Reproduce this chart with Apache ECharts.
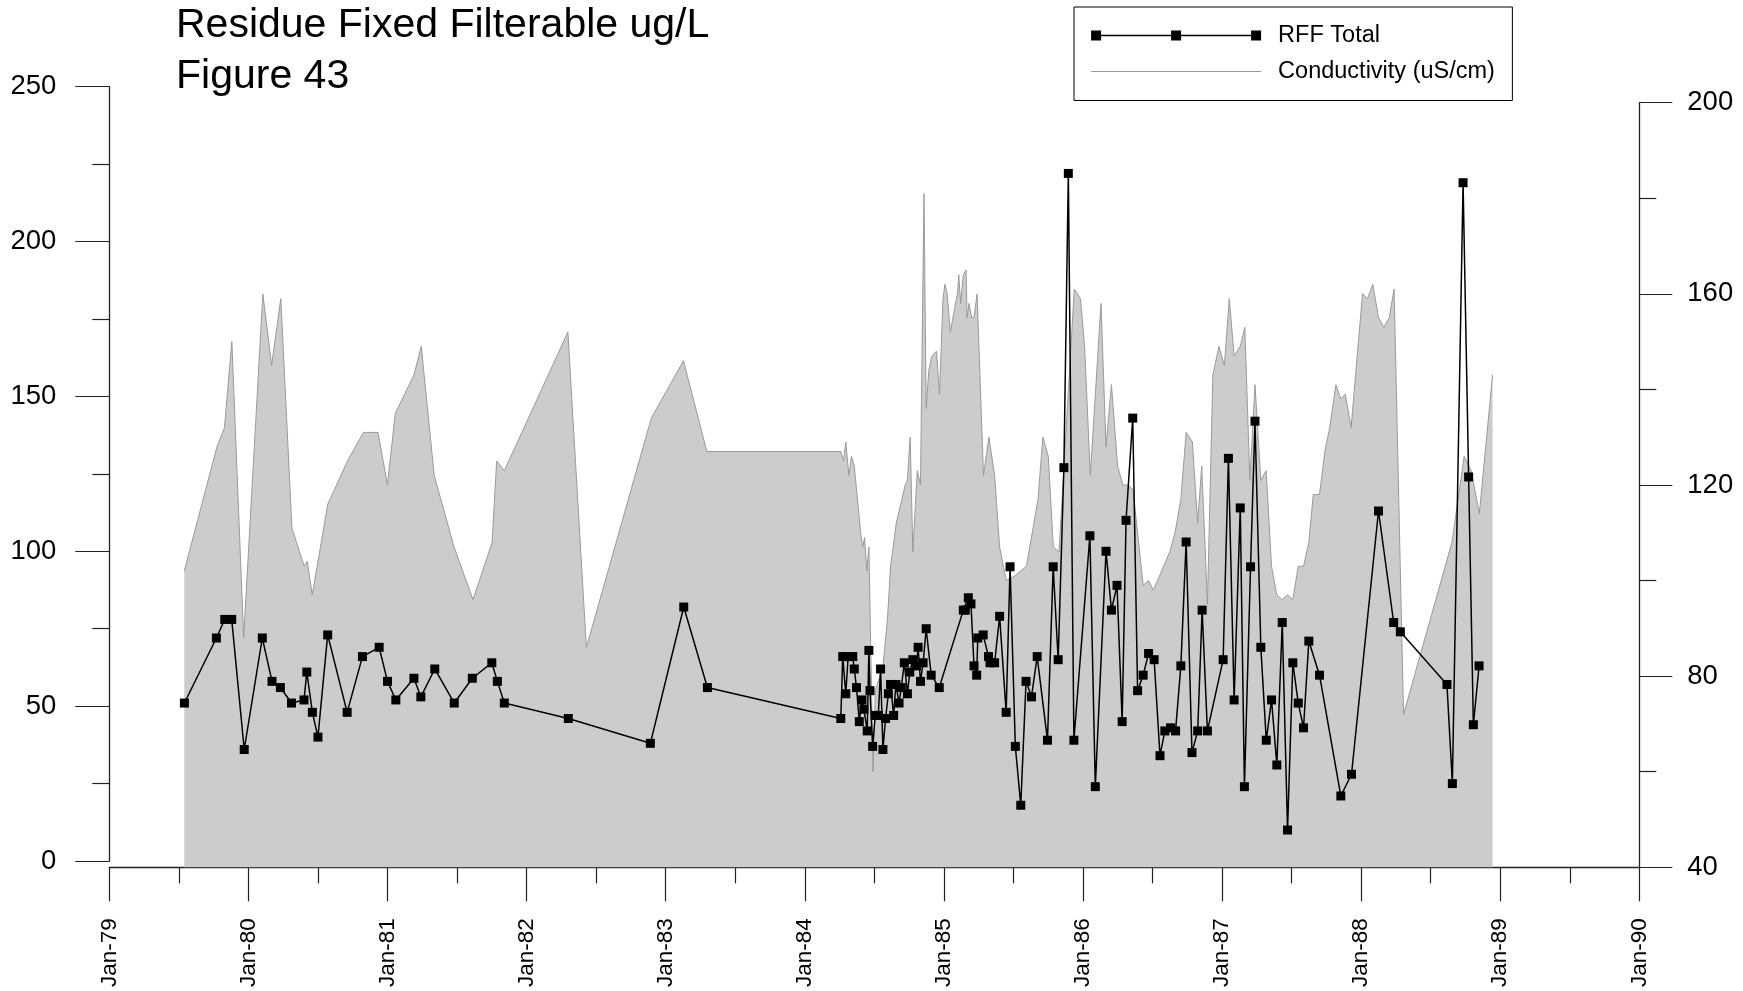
<!DOCTYPE html>
<html>
<head>
<meta charset="utf-8">
<script src="https://cdn.jsdelivr.net/npm/echarts@6/dist/echarts.min.js"></script>
<style>
html,body{margin:0;padding:0;background:#fff;}
#chart{width:1743px;height:991px;}
</style>
</head>
<body>
<div id="chart"></div>
<script>
// ---- data (dates as decimal years) ----
const xTickLabels = ['Jan-79','Jan-80','Jan-81','Jan-82','Jan-83','Jan-84','Jan-85','Jan-86','Jan-87','Jan-88','Jan-89','Jan-90'];

const rffDates = [1979.54,1979.77,1979.83,1979.88,1979.97,1980.10,1980.17,1980.23,1980.31,1980.40,1980.42,1980.46,1980.50,1980.57,1980.71,1980.82,1980.94,1981.00,1981.06,1981.19,1981.24,1981.34,1981.48,1981.61,1981.75,1981.79,1981.84,1982.30,1982.89,1983.13,1983.30,
1984.259,1984.273,1984.295,1984.312,1984.345,1984.356,1984.372,1984.392,1984.411,1984.425,1984.449,1984.461,1984.469,1984.488,1984.507,1984.529,1984.545,1984.562,1984.581,1984.601,1984.617,1984.639,1984.655,1984.678,1984.694,1984.716,1984.738,1984.755,1984.777,1984.804,1984.815,1984.832,1984.851,1984.873,1984.909,1984.967,
1985.140,1985.154,1985.176,1985.195,1985.217,1985.236,1985.244,1985.283,1985.321,1985.332,1985.365,1985.401,1985.448,1985.476,1985.514,1985.553,1985.591,1985.630,1985.671,1985.745,1985.786,1985.822,1985.863,1985.895,1985.935,1986.050,1986.089,1986.166,1986.205,1986.245,1986.282,1986.310,1986.358,1986.393,1986.433,1986.472,1986.512,1986.554,1986.589,1986.630,1986.666,1986.704,1986.742,1986.784,1986.825,1986.857,1986.895,1987.008,1987.046,1987.087,1987.131,1987.161,1987.205,1987.237,1987.279,1987.318,1987.356,1987.394,1987.433,1987.471,1987.509,1987.548,1987.586,1987.624,1987.701,1987.854,1987.931,1988.125,1988.234,1988.282,1988.617,1988.656,1988.733,1988.773,1988.807,1988.848];

const rffValues = [51,72,78,78,36,72,58,56,51,52,61,48,40,73,48,66,69,58,52,59,53,62,51,59,64,58,51,46,38,82,56,
46,66,54,66,66,62,56,45,52,49,42,68,55,37,47,47,62,36,46,54,57,47,57,51,56,64,54,61,65,63,69,58,64,75,60,56,
81,81,85,83,63,60,72,73,66,64,64,79,48,95,37,18,58,53,66,39,95,65,127,222,39,105,24,100,81,89,45,110,143,55,60,67,65,34,42,43,42,63,103,35,42,81,42,65,130,52,114,24,95,142,69,39,52,31,77,10,64,51,43,71,60,21,28,113,77,74,57,25,219,124,44,63];

const condDates = [1979.539,1979.774,1979.828,1979.881,1979.966,1980.104,1980.167,1980.233,1980.313,1980.401,
1980.423,1980.459,1980.571,1980.712,1980.827,1980.932,1981.000,1981.056,1981.190,1981.243,
1981.336,1981.479,1981.615,1981.752,1981.785,1981.840,1982.297,1982.430,1982.897,1983.128,
1983.296,1984.259,1984.279,1984.295,1984.317,1984.336,1984.356,1984.402,1984.416,1984.430,
1984.446,1984.461,1984.491,1984.507,1984.562,1984.595,1984.617,1984.658,1984.722,1984.738,
1984.758,1984.777,1984.809,1984.832,1984.857,1984.873,1984.892,1984.914,1984.947,1984.969,
1984.994,1985.008,1985.024,1985.047,1985.071,1985.098,1985.107,1985.121,1985.140,1985.160,
1985.167,1985.181,1985.200,1985.217,1985.239,1985.285,1985.324,1985.365,1985.401,1985.448,
1985.512,1985.594,1985.677,1985.712,1985.751,1985.787,1985.828,1985.938,1985.982,1986.012,
1986.053,1986.130,1986.166,1986.205,1986.249,1986.287,1986.323,1986.360,1986.433,1986.471,
1986.506,1986.551,1986.580,1986.624,1986.662,1986.704,1986.742,1986.787,1986.825,1986.854,
1986.895,1986.934,1986.978,1987.017,1987.052,1987.087,1987.131,1987.164,1987.200,1987.237,
1987.279,1987.317,1987.356,1987.394,1987.433,1987.471,1987.509,1987.548,1987.586,1987.624,
1987.656,1987.701,1987.739,1987.774,1987.819,1987.854,1987.886,1987.928,1988.010,1988.046,
1988.084,1988.125,1988.164,1988.202,1988.237,1988.305,1988.653,1988.741,1988.791,1988.850,
1988.945];

const condValues = [102,128,132,150,88,160,145,159,111,103,
104,97,116,125,131,131,120,135,143,149,
122,107,96,108,125,123,152,86,134,146,
127,127,125,129,122,126,124,110,107,109,
102,107,60,77,82,92,103,112,120,121,
130,106,123,120,181,136,144,147,148,139,
159,162,160,152,156,160,164,158,164,165,
155,158,155,155,160,122,130,122,107,100,
101,103,117,130,126,107,106,161,159,149,
122,158,128,141,124,120,120,119,99,100,
98,101,103,106,110,117,131,129,112,124,
95,143,149,145,159,147,149,153,121,141,
121,123,103,97,96,97,96,103,103,108,
118,118,127,132,141,138,139,132,160,159,
162,155,153,155,161,72,108,126,123,114,
143];

const FONT = '"Liberation Sans", Arial, Helvetica, sans-serif';
const AX = '#222';

const rffData = rffDates.map((d, i) => [d, rffValues[i]]);
const condData = condDates.map((d, i) => [d, condValues[i]]);

const chart = echarts.init(document.getElementById('chart'), null, {renderer: 'canvas'});

const option = {
  animation: false,
  backgroundColor: '#fff',
  textStyle: {fontFamily: FONT, color: '#000'},
  title: {
    text: 'Residue Fixed Filterable ug/L\nFigure 43',
    left: 176, top: 0, padding: 0,
    textStyle: {fontFamily: FONT, fontSize: 41, fontWeight: 'normal', color: '#000', lineHeight: 51}
  },
  legend: {
    orient: 'vertical',
    left: 1074, top: 7,
    padding: [16.5, 17.5, 17, 16.5],
    itemGap: 12,
    itemWidth: 170, itemHeight: 10,
    borderColor: '#000', borderWidth: 1,
    backgroundColor: '#fff',
    textStyle: {fontFamily: FONT, fontSize: 23.5, color: '#000', padding: [0, 0, 0, 12]},
    data: [
      {name: 'RFF Total', icon: 'path://M0,0h10v10h-10z M80,0h10v10h-10z M160,0h10v10h-10z M5,4.25h160v1.5h-160z', itemStyle: {color: '#000'}},
      {name: 'Conductivity (uS/cm)', itemStyle: {opacity: 0}, lineStyle: {color: '#999', width: 1.2}}
    ]
  },
  grid: [
    {left: 109.3, right: 103.7, top: 86.7, bottom: 130, containLabel: false, outerBoundsMode: 'none'},
    {left: 109.3, right: 103.7, top: 102.7, bottom: 123.7, containLabel: false, outerBoundsMode: 'none'}
  ],
  xAxis: [
    {gridIndex: 0, type: 'value', min: 1979, max: 1990, interval: 1, show: false},
    {
      gridIndex: 1, type: 'value', min: 1979, max: 1990, interval: 1,
      axisLine: {show: true, onZero: false, lineStyle: {color: AX, width: 1.3}},
      axisTick: {show: true, inside: false, length: 34, lineStyle: {color: AX, width: 1.2}},
      minorTick: {show: true, splitNumber: 2, length: 16, lineStyle: {color: AX, width: 1.2}},
      splitLine: {show: false},
      axisLabel: {
        rotate: 90, margin: 51, fontSize: 22.5, color: '#000', fontFamily: FONT,
        formatter: v => xTickLabels[Math.round(v - 1979)]
      }
    }
  ],
  yAxis: [
    {
      gridIndex: 0, type: 'value', position: 'left', min: 0, max: 250, interval: 50,
      axisLine: {show: true, lineStyle: {color: AX, width: 1.3}},
      axisTick: {show: true, length: 34, lineStyle: {color: AX, width: 1.2}},
      minorTick: {show: true, splitNumber: 2, length: 17, lineStyle: {color: AX, width: 1.2}},
      splitLine: {show: false},
      axisLabel: {margin: 53, fontSize: 27.5, color: '#000', fontFamily: FONT}
    },
    {
      gridIndex: 1, type: 'value', position: 'right', min: 40, max: 200, interval: 40,
      axisLine: {show: true, lineStyle: {color: AX, width: 1.3}},
      axisTick: {show: true, length: 33, lineStyle: {color: AX, width: 1.2}},
      minorTick: {show: true, splitNumber: 2, length: 17, lineStyle: {color: AX, width: 1.2}},
      splitLine: {show: false},
      axisLabel: {margin: 48, fontSize: 27.5, color: '#000', fontFamily: FONT}
    }
  ],
  series: [
    {
      name: 'Conductivity (uS/cm)', type: 'line',
      xAxisIndex: 1, yAxisIndex: 1,
      data: condData,
      symbol: 'none',
      color: '#999',
      lineStyle: {color: '#9a9a9a', width: 1},
      areaStyle: {color: '#cccccc', opacity: 1, origin: 'start'},
      z: 1
    },
    {
      name: 'RFF Total', type: 'line',
      xAxisIndex: 0, yAxisIndex: 0,
      data: rffData,
      symbol: 'rect', symbolSize: 9,
      color: '#000',
      itemStyle: {color: '#000'},
      lineStyle: {color: '#000', width: 1.5},
      z: 3
    }
  ]
};
chart.setOption(option);
</script>
</body>
</html>
